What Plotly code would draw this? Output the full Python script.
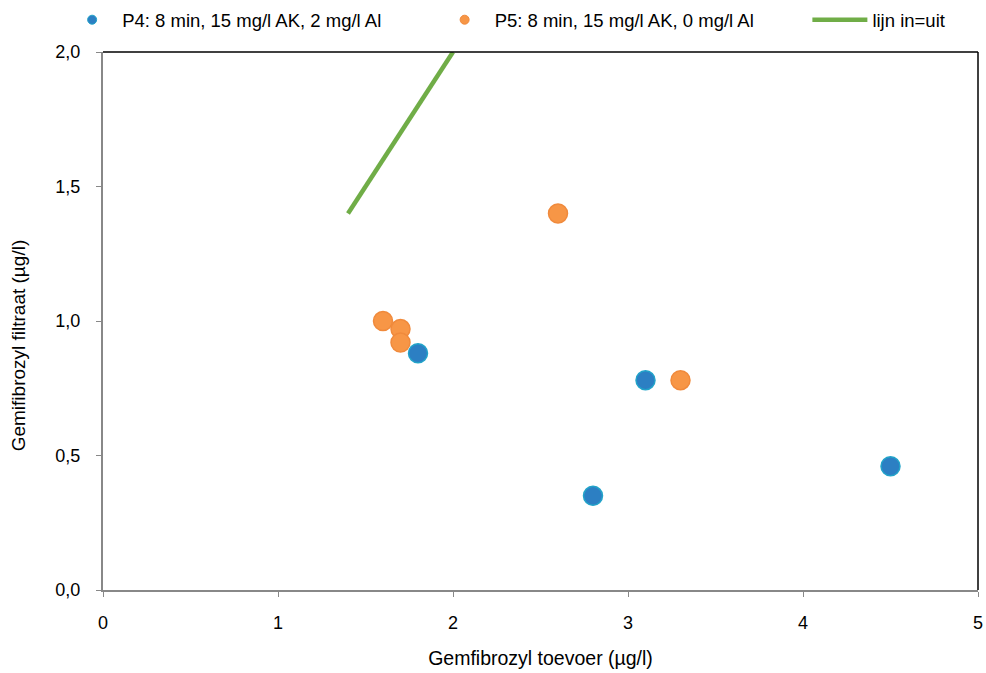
import plotly.graph_objects as go

# Gemfibrozyl: toevoer vs. filtraat (µg/l)
p4_toevoer = [1.8, 3.1, 2.8, 4.5]
p4_filtraat = [0.88, 0.78, 0.35, 0.46]

p5_toevoer = [1.6, 1.7, 1.7, 2.6, 3.3]
p5_filtraat = [1.00, 0.97, 0.92, 1.40, 0.78]

lijn_x = [1.4, 2.0]
lijn_y = [1.4, 2.0]

names = ["P4: 8 min, 15 mg/l AK, 2 mg/l Al",
         "P5: 8 min, 15 mg/l AK, 0 mg/l Al",
         "lijn in=uit"]

x_title = "Gemfibrozyl toevoer (µg/l)"
y_title = "Gemifibrozyl filtraat (µg/l)"

BLUE_FILL = "#2C7FC3"
BLUE_EDGE = "#22A3C9"
ORANGE_FILL = "#F79646"
ORANGE_EDGE = "#F08A3C"
GREEN = "#70AD47"
FONT = "Liberation Sans, Arial, sans-serif"

fig = go.Figure()

fig.add_trace(go.Scatter(
    x=p4_toevoer, y=p4_filtraat, mode="markers", showlegend=False,
    marker=dict(size=19, color=BLUE_FILL, line=dict(color=BLUE_EDGE, width=1.5)),
))
fig.add_trace(go.Scatter(
    x=p5_toevoer, y=p5_filtraat, mode="markers", showlegend=False,
    marker=dict(size=19, color=ORANGE_FILL, line=dict(color=ORANGE_EDGE, width=1.5)),
))
fig.add_trace(go.Scatter(
    x=lijn_x, y=lijn_y, mode="lines", showlegend=False,
    line=dict(color=GREEN, width=4.5),
))

# legend entries with smaller symbols, one legend each
fig.add_trace(go.Scatter(
    x=[None], y=[None], mode="markers", name=names[0], legend="legend",
    marker=dict(size=9, color=BLUE_FILL, line=dict(color=BLUE_EDGE, width=1)),
))
fig.add_trace(go.Scatter(
    x=[None], y=[None], mode="markers", name=names[1], legend="legend2",
    marker=dict(size=9, color=ORANGE_FILL, line=dict(color=ORANGE_EDGE, width=1)),
))
fig.add_trace(go.Scatter(
    x=[None], y=[None], mode="lines", name=names[2], legend="legend3",
    line=dict(color=GREEN, width=4.5),
))

axis_common = dict(
    showgrid=False, zeroline=False,
    showline=True, linecolor="#888888", linewidth=2,
    ticks="outside", ticklen=5, tickcolor="#888888", tickwidth=1,
    tickfont=dict(family=FONT, size=18, color="#000000"),
)

fig.update_xaxes(
    range=[0, 5], dtick=1, tick0=0, ticklabelstandoff=10,
    title=dict(text=x_title, standoff=20,
               font=dict(family=FONT, size=19.5, color="#000000")),
    **axis_common,
)
fig.update_yaxes(
    range=[0, 2], dtick=0.5, tick0=0, tickformat=".1f", ticklabelstandoff=12,
    **axis_common,
)

# y-axis title
fig.add_annotation(
    text=y_title, textangle=-90, xref="paper", yref="paper",
    x=-0.097, y=0.455, xanchor="center", yanchor="middle", showarrow=False,
    font=dict(family=FONT, size=19, color="#000000"),
)

# black frame on top and right
fig.add_shape(type="line", xref="paper", yref="paper", x0=0, x1=1, y0=1, y1=1,
              line=dict(color="#000000", width=1.5))
fig.add_shape(type="line", xref="paper", yref="paper", x0=1, x1=1, y0=0, y1=1,
              line=dict(color="#000000", width=1.5))

legend_common = dict(
    orientation="h", yref="container", y=0.970, yanchor="middle",
    xanchor="left",
    font=dict(family=FONT, size=18.5, color="#000000"),
    bgcolor="rgba(0,0,0,0)", itemsizing="trace",
)

fig.update_layout(
    width=986, height=673,
    margin=dict(l=103, r=8, t=52, b=83, autoexpand=False),
    paper_bgcolor="#FFFFFF", plot_bgcolor="#FFFFFF",
    separators=", ",
    font=dict(family=FONT, size=18, color="#000000"),
    legend=dict(x=-0.0467, itemwidth=50, **legend_common),
    legend2=dict(x=0.379, itemwidth=50, **legend_common),
    legend3=dict(x=0.805, itemwidth=55, **legend_common),
)

fig.write_html("out.html")
